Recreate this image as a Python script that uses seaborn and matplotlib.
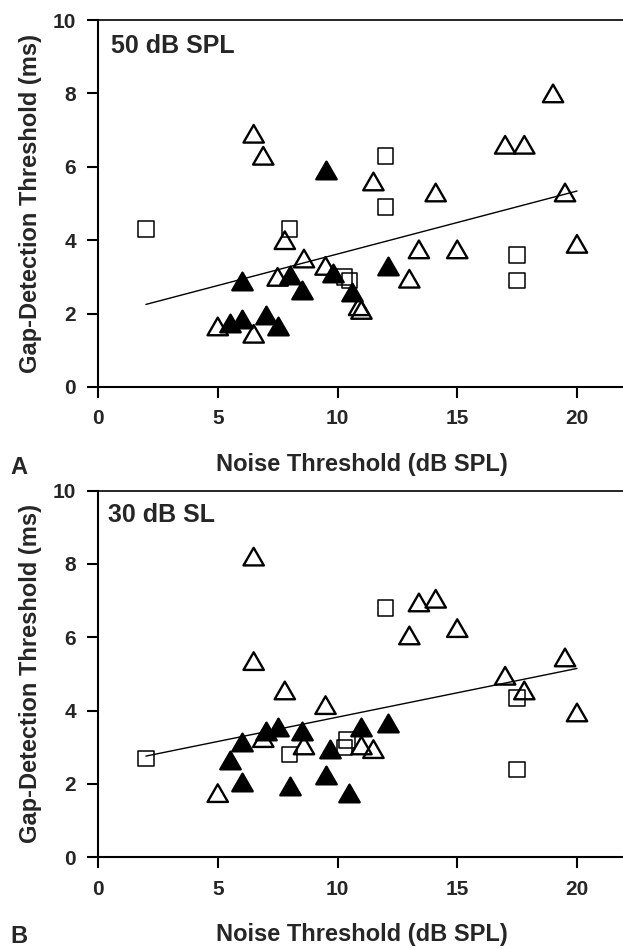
import numpy as np
import pandas as pd
import seaborn as sns
import matplotlib.pyplot as plt
from matplotlib.path import Path

# Panel A: 50 dB SPL
a_open_x = [6.5, 6.9, 7.8, 8.6, 9.5, 7.5, 5.0, 6.5, 10.9, 11.0, 19.0, 17.0, 17.8, 11.5, 14.1, 19.5, 20.0, 13.4, 15.0, 13.0]
a_open_y = [6.9, 6.3, 4.0, 3.5, 3.3, 3.0, 1.65, 1.45, 2.2, 2.1, 8.0, 6.6, 6.6, 5.6, 5.3, 5.3, 3.9, 3.75, 3.75, 2.95]
a_fill_x = [9.5, 9.8, 10.6, 6.0, 8.0, 8.5, 5.5, 6.0, 7.0, 7.5, 12.1]
a_fill_y = [5.9, 3.1, 2.6, 2.9, 3.05, 2.65, 1.75, 1.85, 1.95, 1.65, 3.3]
a_sq_x = [2.0, 8.0, 10.3, 10.5, 12.0, 12.0, 17.5, 17.5]
a_sq_y = [4.3, 4.3, 3.0, 2.9, 6.3, 4.9, 3.6, 2.9]
a_fit_x = [2.0, 20.0]
a_fit_y = [2.25, 5.34]

# Panel B: 30 dB SL
b_open_x = [6.5, 6.5, 7.8, 9.5, 6.9, 8.6, 5.0, 11.0, 11.5, 13.4, 14.1, 13.0, 15.0, 19.5, 17.0, 17.8, 20.0]
b_open_y = [8.2, 5.35, 4.55, 4.15, 3.25, 3.05, 1.75, 3.05, 2.95, 6.95, 7.05, 6.05, 6.25, 5.45, 4.95, 4.55, 3.95]
b_fill_x = [6.0, 7.0, 7.5, 8.5, 9.7, 5.5, 6.0, 8.0, 9.5, 10.5, 11.0, 12.1]
b_fill_y = [3.15, 3.45, 3.55, 3.45, 2.95, 2.65, 2.05, 1.95, 2.25, 1.75, 3.55, 3.65]
b_sq_x = [2.0, 8.0, 10.3, 10.4, 12.0, 17.5, 17.5]
b_sq_y = [2.7, 2.8, 3.0, 3.2, 6.8, 4.35, 2.4]
b_fit_x = [2.0, 20.0]
b_fit_y = [2.76, 5.15]

x_ticks = [0, 5, 10, 15, 20]
y_ticks = [0, 2, 4, 6, 8, 10]

sns.set_theme(style="ticks")
plt.rcParams['font.family'] = ['Liberation Sans', 'DejaVu Sans']
plt.rcParams['font.weight'] = 'bold'

# equilateral triangle marker
tri = Path([(0, 0.433), (-0.5, -0.433), (0.5, -0.433), (0, 0.433)], closed=True)

W, H = 623, 949
fig = plt.figure(figsize=(W / 100, H / 100), dpi=100)


def add_ax(top, bottom):
    left, right = 98, 98 + 22 * 23.95
    return fig.add_axes([left / W, 1 - bottom / H, (right - left) / W, (bottom - top) / H])


def draw_panel(ax, ox, oy, fx, fy, sx, sy, lx, ly, title, tpos):
    sns.lineplot(x=lx, y=ly, ax=ax, color="black", lw=1.0)
    sns.scatterplot(x=sx, y=sy, ax=ax, marker="s", s=125, facecolor="none",
                    edgecolor="black", linewidth=1.1, zorder=3)
    sns.scatterplot(x=ox, y=oy, ax=ax, marker=tri, s=215, facecolor="none",
                    edgecolor="black", linewidth=1.7, zorder=3)
    sns.scatterplot(x=fx, y=fy, ax=ax, marker=tri, s=215, facecolor="black",
                    edgecolor="black", linewidth=1.7, zorder=4)
    ax.set_xlim(0, 22)
    ax.set_ylim(0, 10)
    ax.set_xticks(x_ticks)
    ax.set_yticks(y_ticks)
    ax.tick_params(axis="both", direction="out", length=8, width=1.5,
                   pad=8, labelsize=15, color="black")
    for lab in ax.get_xticklabels() + ax.get_yticklabels():
        lab.set_fontweight("bold")
    ax.spines["right"].set_visible(False)
    for sp in ["left", "bottom"]:
        ax.spines[sp].set_linewidth(1.5)
        ax.spines[sp].set_color("black")
    ax.spines["top"].set_linewidth(1.2)
    ax.spines["top"].set_color("black")
    ax.set_xlabel("Noise Threshold (dB SPL)", fontsize=17, fontweight="bold")
    ax.set_ylabel("Gap-Detection Threshold (ms)", fontsize=17, fontweight="bold")
    ax.xaxis.set_label_coords(0.5, -0.18)
    ax.yaxis.set_label_coords(-0.106, 0.5)
    ax.text(tpos[0], tpos[1], title, transform=ax.transAxes, fontsize=18,
            fontweight="bold", va="baseline", ha="left")


axA = add_ax(20, 387)
axB = add_ax(490.6, 857.3)
draw_panel(axA, a_open_x, a_open_y, a_fill_x, a_fill_y, a_sq_x, a_sq_y,
           a_fit_x, a_fit_y, "50 dB SPL", (0.025, 0.91))
draw_panel(axB, b_open_x, b_open_y, b_fill_x, b_fill_y, b_sq_x, b_sq_y,
           b_fit_x, b_fit_y, "30 dB SL", (0.019, 0.914))

fig.text(10 / W, 1 - 474 / H, "A", fontsize=17, fontweight="bold", va="baseline")
fig.text(10 / W, 1 - 943 / H, "B", fontsize=17, fontweight="bold", va="baseline")

fig.savefig("out.png", dpi=100)
